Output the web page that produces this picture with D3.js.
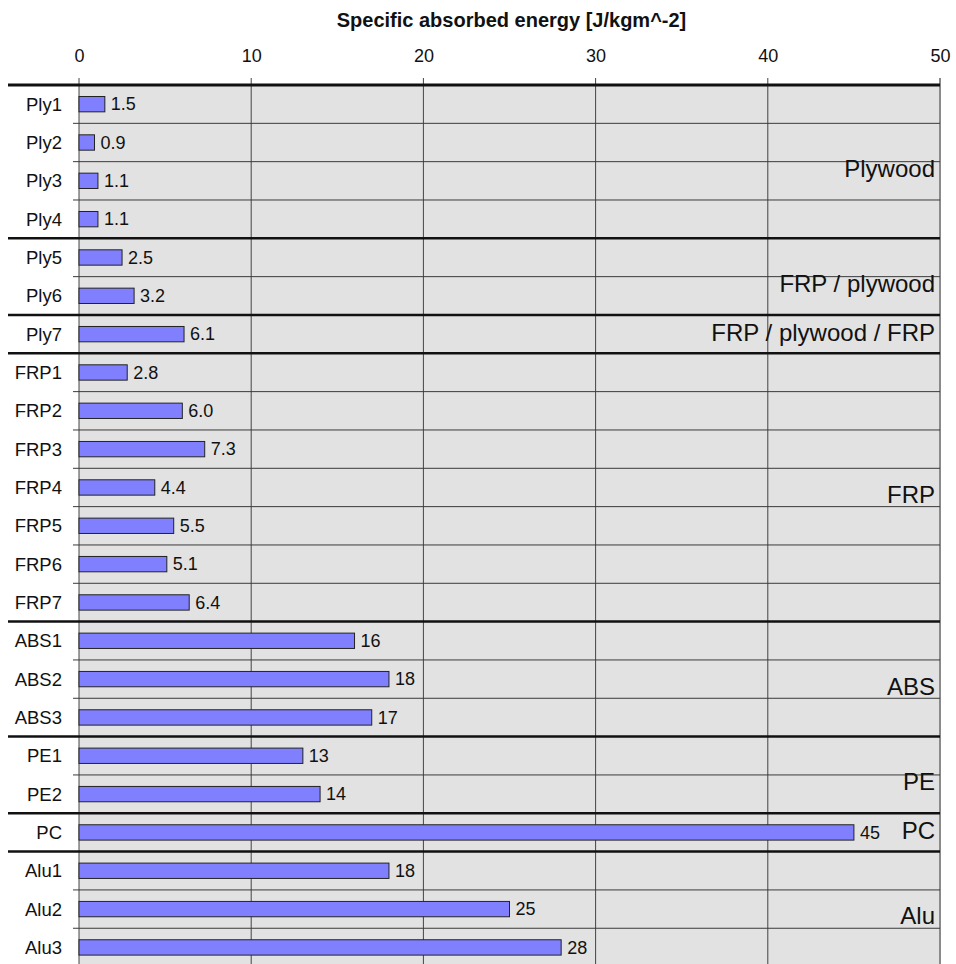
<!DOCTYPE html>
<html>
<head>
<meta charset="utf-8">
<script src="https://cdn.jsdelivr.net/npm/d3@7/dist/d3.min.js"></script>
<style>
  html, body { margin: 0; padding: 0; background: #fff; }
  svg { display: block; font-family: "Liberation Sans", Arial, sans-serif; }
</style>
</head>
<body>
<svg id="chart" width="956" height="964"></svg>
<script>
// Specific absorbed energy per specimen
const categories = ["Ply1","Ply2","Ply3","Ply4","Ply5","Ply6","Ply7",
  "FRP1","FRP2","FRP3","FRP4","FRP5","FRP6","FRP7",
  "ABS1","ABS2","ABS3","PE1","PE2","PC","Alu1","Alu2","Alu3"];
const values = [1.5, 0.9, 1.1, 1.1, 2.5, 3.2, 6.1,
  2.8, 6.0, 7.3, 4.4, 5.5, 5.1, 6.4,
  16, 18, 17, 13, 14, 45, 18, 25, 28];

// Material groups (consecutive runs of specimens)
const groupNames = ["Plywood", "FRP / plywood", "FRP / plywood / FRP", "FRP", "ABS", "PE", "PC", "Alu"];
const groupSizes = [4, 2, 1, 7, 3, 2, 1, 3];

const tickValues = [0, 10, 20, 30, 40, 50];
const axisTitle = "Specific absorbed energy [J/kgm^-2]";

const svg = d3.select("#chart");
const plotLeft = 79, plotRight = 940, plotTop = 85, rowH = 38.33;
const plotBottom = plotTop + categories.length * rowH;

const x = d3.scaleLinear().domain([0, 50]).range([plotLeft, plotRight]);
const y = d3.scaleBand().domain(categories).range([plotTop, plotBottom])
  .paddingInner(0.6).paddingOuter(0.3);
const step = y.step();

// plot background
svg.append("rect").attr("x", plotLeft).attr("y", plotTop)
  .attr("width", plotRight - plotLeft).attr("height", plotBottom - plotTop)
  .attr("fill", "#e2e2e2");

// vertical grid lines with short ticks above the plot
svg.append("g").selectAll("line").data(tickValues).join("line")
  .attr("x1", d => x(d)).attr("x2", d => x(d))
  .attr("y1", plotTop - 7).attr("y2", plotBottom)
  .attr("stroke", d => d === 50 ? "#8a8a8a" : "#444")
  .attr("stroke-width", d => d === 50 ? 2 : 1);

// top axis labels
const axis = d3.axisTop(x).tickValues(tickValues).tickSize(0).tickPadding(0)
  .tickFormat(d3.format("d"));
const ax = svg.append("g").attr("transform", `translate(0,${plotTop - 23})`).call(axis);
ax.select(".domain").remove();
ax.selectAll("text").attr("font-size", 18).attr("fill", "#111")
  .attr("font-family", "Liberation Sans, Arial, sans-serif");

svg.append("text").attr("x", (plotLeft + plotRight) / 2 + 2).attr("y", 27)
  .attr("text-anchor", "middle").attr("font-weight", "bold")
  .attr("font-size", 20).attr("fill", "#111").text(axisTitle);

// group start indices
const groupStarts = [];
let acc = 0;
groupSizes.forEach(n => { groupStarts.push(acc); acc += n; });

// thin row separators (within groups)
const rowLines = d3.range(1, categories.length).filter(i => !groupStarts.includes(i));
svg.append("g").selectAll("line").data(rowLines).join("line")
  .attr("x1", plotLeft - 6).attr("x2", plotRight)
  .attr("y1", i => plotTop + i * step).attr("y2", i => plotTop + i * step)
  .attr("stroke", "#3a3a3a").attr("stroke-width", 1);

// heavy group separators
svg.append("g").selectAll("line").data(groupStarts.slice(1)).join("line")
  .attr("x1", 8).attr("x2", plotRight)
  .attr("y1", i => plotTop + i * step).attr("y2", i => plotTop + i * step)
  .attr("stroke", "#111").attr("stroke-width", 2.5);

// top border
svg.append("line").attr("x1", 8).attr("x2", plotRight)
  .attr("y1", plotTop).attr("y2", plotTop)
  .attr("stroke", "#111").attr("stroke-width", 3);

// bars
svg.append("g").selectAll("rect").data(categories).join("rect")
  .attr("x", x(0)).attr("y", d => y(d))
  .attr("width", (d, i) => x(values[i]) - x(0))
  .attr("height", y.bandwidth())
  .attr("fill", "#8080ff").attr("stroke", "#222").attr("stroke-width", 1);

// value labels
const fmt = v => v < 10 ? d3.format(".1f")(v) : d3.format("d")(v);
svg.append("g").selectAll("text").data(categories).join("text")
  .attr("x", (d, i) => x(values[i]) + 6)
  .attr("y", d => y(d) + y.bandwidth() / 2)
  .attr("dy", "0.35em").attr("font-size", 18).attr("fill", "#111")
  .text((d, i) => fmt(values[i]));

// category labels
svg.append("g").selectAll("text").data(categories).join("text")
  .attr("x", 62).attr("y", d => y(d) + y.bandwidth() / 2)
  .attr("dy", "0.35em").attr("text-anchor", "end")
  .attr("font-size", 18.5).attr("fill", "#111").text(d => d);

// group labels, right-aligned inside the plot
svg.append("g").selectAll("text").data(groupNames).join("text")
  .attr("x", plotRight - 5)
  .attr("y", (d, i) => plotTop + (groupStarts[i] + groupSizes[i] / 2) * step + (groupSizes[i] > 1 ? 7 : -1.5))
  .attr("dy", "0.35em").attr("text-anchor", "end")
  .attr("font-size", 24).attr("fill", "#111").text(d => d);
</script>
</body>
</html>
